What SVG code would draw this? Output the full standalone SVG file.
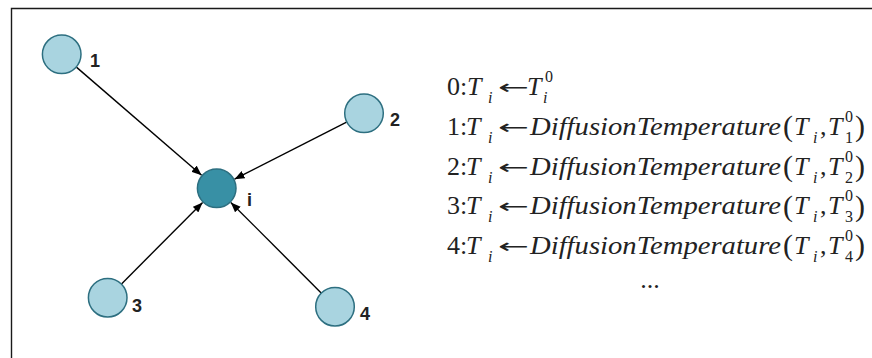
<svg xmlns="http://www.w3.org/2000/svg" width="872" height="358" viewBox="0 0 872 358">
<style>
.frame{stroke:#1a1a1a;stroke-width:1.4;fill:none}
.leaf{fill:#a9d4e0;stroke:#2d6f80;stroke-width:1.5}
.center{fill:#3890a5;stroke:#2d6f80;stroke-width:1.5}
.lbl{font-family:"Liberation Sans",Arial,sans-serif;font-weight:bold;font-size:18px;fill:#222}
.edge{stroke:#000;stroke-width:1.4;fill:none;marker-end:url(#ah)}
.eq{font-family:"Liberation Serif","Times New Roman",serif;font-size:26px;fill:#222}
.it{font-style:italic}
.sm{font-size:16px}
.par{font-size:30px}
.arr{font-family:"DejaVu Sans",sans-serif;font-size:20px}
</style>
<defs>
<marker id="ah" markerWidth="11" markerHeight="8" refX="10" refY="4" orient="auto" markerUnits="userSpaceOnUse">
<path d="M0,0 L10,4 L0,8 z" fill="#000"/>
</marker>
</defs>
<path class="frame" d="M11.5,358 L11.5,8.5 L872,8.5"/>
<g id="connectors">
<line class="edge" x1="76.4" y1="67.1" x2="201.6" y2="175.2"/>
<line class="edge" x1="346.6" y1="122.2" x2="234.5" y2="179.2"/>
<line class="edge" x1="121.5" y1="283.9" x2="202.6" y2="202.5"/>
<line class="edge" x1="321.2" y1="292.9" x2="230.8" y2="202.4"/>
</g>
<g id="node-1"><circle class="leaf" cx="61.7" cy="54.3" r="19.3"/><text class="lbl" x="90" y="66.5">1</text></g>
<g id="node-2"><circle class="leaf" cx="364" cy="113.3" r="19.3"/><text class="lbl" x="390" y="125.5">2</text></g>
<g id="node-i"><circle class="center" cx="216.7" cy="188.3" r="19.3"/><text class="lbl" x="247" y="205.5">i</text></g>
<g id="node-3"><circle class="leaf" cx="107.7" cy="297.7" r="19.3"/><text class="lbl" x="132" y="312">3</text></g>
<g id="node-4"><circle class="leaf" cx="335" cy="306.7" r="19.3"/><text class="lbl" x="360" y="320">4</text></g>
<g id="equations">
<text class="eq" y="95"><tspan x="447">0:</tspan><tspan class="it" x="467">T</tspan><tspan class="it sm" x="488" y="103">i</tspan><tspan class="arr" x="498" y="94" textLength="31" lengthAdjust="spacingAndGlyphs">←</tspan><tspan class="it" x="527" y="95">T</tspan><tspan class="sm" x="545" y="82">0</tspan><tspan class="it sm" x="543" y="103">i</tspan></text>
<text class="eq" y="134.5"><tspan x="447">1:</tspan><tspan class="it" x="466">T</tspan><tspan class="it sm" x="488" y="142.5">i</tspan><tspan class="arr" x="498" y="133.5" textLength="31" lengthAdjust="spacingAndGlyphs">←</tspan><tspan class="it" x="530" y="134.5" textLength="251" lengthAdjust="spacingAndGlyphs">DiffusionTemperature</tspan><tspan class="par" x="783" y="136">(</tspan><tspan class="it" x="794" y="134.5">T</tspan><tspan class="it sm" x="813" y="142.5">i</tspan><tspan x="820" y="134.5">,</tspan><tspan class="it" x="828">T</tspan><tspan class="sm" x="845" y="121.5">0</tspan><tspan class="sm" x="845" y="142.5">1</tspan><tspan class="par" x="855" y="136">)</tspan></text>
<text class="eq" y="174.5"><tspan x="447">2:</tspan><tspan class="it" x="466">T</tspan><tspan class="it sm" x="488" y="182.5">i</tspan><tspan class="arr" x="498" y="173.5" textLength="31" lengthAdjust="spacingAndGlyphs">←</tspan><tspan class="it" x="530" y="174.5" textLength="251" lengthAdjust="spacingAndGlyphs">DiffusionTemperature</tspan><tspan class="par" x="783" y="176">(</tspan><tspan class="it" x="794" y="174.5">T</tspan><tspan class="it sm" x="813" y="182.5">i</tspan><tspan x="820" y="174.5">,</tspan><tspan class="it" x="828">T</tspan><tspan class="sm" x="845" y="161.5">0</tspan><tspan class="sm" x="845" y="182.5">2</tspan><tspan class="par" x="855" y="176">)</tspan></text>
<text class="eq" y="214"><tspan x="447">3:</tspan><tspan class="it" x="466">T</tspan><tspan class="it sm" x="488" y="222">i</tspan><tspan class="arr" x="498" y="213" textLength="31" lengthAdjust="spacingAndGlyphs">←</tspan><tspan class="it" x="530" y="214" textLength="251" lengthAdjust="spacingAndGlyphs">DiffusionTemperature</tspan><tspan class="par" x="783" y="215.5">(</tspan><tspan class="it" x="794" y="214">T</tspan><tspan class="it sm" x="813" y="222">i</tspan><tspan x="820" y="214">,</tspan><tspan class="it" x="828">T</tspan><tspan class="sm" x="845" y="201">0</tspan><tspan class="sm" x="845" y="222">3</tspan><tspan class="par" x="855" y="215.5">)</tspan></text>
<text class="eq" y="253.5"><tspan x="447">4:</tspan><tspan class="it" x="466">T</tspan><tspan class="it sm" x="488" y="261.5">i</tspan><tspan class="arr" x="498" y="252.5" textLength="31" lengthAdjust="spacingAndGlyphs">←</tspan><tspan class="it" x="530" y="253.5" textLength="251" lengthAdjust="spacingAndGlyphs">DiffusionTemperature</tspan><tspan class="par" x="783" y="255">(</tspan><tspan class="it" x="794" y="253.5">T</tspan><tspan class="it sm" x="813" y="261.5">i</tspan><tspan x="820" y="253.5">,</tspan><tspan class="it" x="828">T</tspan><tspan class="sm" x="845" y="240.5">0</tspan><tspan class="sm" x="845" y="261.5">4</tspan><tspan class="par" x="855" y="255">)</tspan></text>
<text class="eq" x="650" y="288" text-anchor="middle">...</text>
</g>
</svg>
